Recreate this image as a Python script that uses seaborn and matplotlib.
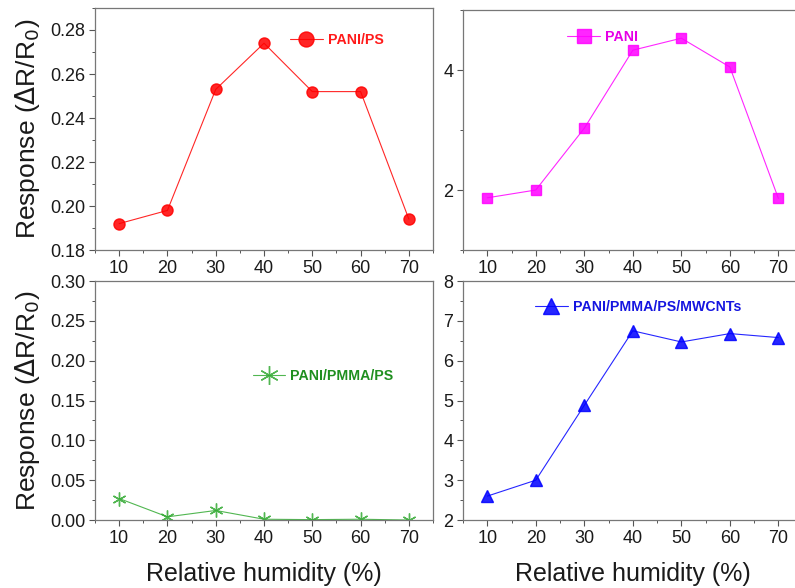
import numpy as np
import matplotlib
matplotlib.use("Agg")
import matplotlib.pyplot as plt
from matplotlib.ticker import MultipleLocator, FormatStrFormatter
import seaborn as sns

# humidity levels (%)
rh = [10, 20, 30, 40, 50, 60, 70]

# responses
pani_ps = [0.192, 0.198, 0.253, 0.274, 0.252, 0.252, 0.194]
pani = [1.87, 2.00, 3.03, 4.33, 4.53, 4.05, 1.86]
pani_pmma_ps = [0.027, 0.004, 0.012, 0.001, 0.0005, 0.001, 0.0]
pani_mwcnt = [2.60, 3.00, 4.88, 6.75, 6.47, 6.68, 6.58]

sns.set_style("white")
plt.rcParams['font.family'] = ['Liberation Sans', 'DejaVu Sans']

fig = plt.figure(figsize=(7.95, 5.88), dpi=100)

# axes boxes in figure fractions (left, bottom, width, height)
ax_tl = fig.add_axes([0.1195, 0.5748, 0.4252, 0.4116])
ax_tr = fig.add_axes([0.5824, 0.5748, 0.4272, 0.4082])
ax_bl = fig.add_axes([0.1195, 0.1156, 0.4252, 0.4065])
ax_br = fig.add_axes([0.5824, 0.1156, 0.4272, 0.4065])

panels = [
    (ax_tl, pani_ps, "PANI/PS", "#ff0000", "#ff1a1a", "o", 8, (0.18, 0.29), 0.02, 0.01),
    (ax_tr, pani, "PANI", "#ff00ff", "#e600e6", "s", 7.5, (1, 5), 2, 1),
    (ax_bl, pani_pmma_ps, "PANI/PMMA/PS", "#33aa33", "#1f8f1f", (6, 2, 0), 10, (0, 0.30), 0.05, 0.025),
    (ax_br, pani_mwcnt, "PANI/PMMA/PS/MWCNTs", "#0000ff", "#1515e0", "^", 9, (2, 8), 1, 0.5),
]
legend_pos = [(0.577, 0.868), (0.307, 0.8875), (0.467, 0.604), (0.212, 0.891)]

for (ax, vals, name, col, tcol, mk, ms, ylim, major, minor), lp in zip(panels, legend_pos):
    sns.lineplot(x=rh, y=vals, ax=ax, color=col, marker=mk, markersize=ms,
                 markeredgecolor=col, markeredgewidth=1.0, linewidth=0.8,
                 label=name)
    ax.lines[0].set_alpha(0.85)
    ax.set_xlim(5, 75)
    ax.set_ylim(*ylim)
    ax.xaxis.set_major_locator(MultipleLocator(10))
    ax.xaxis.set_minor_locator(MultipleLocator(5))
    ax.yaxis.set_major_locator(MultipleLocator(major))
    ax.yaxis.set_minor_locator(MultipleLocator(minor))
    ax.tick_params(which="major", direction="out", length=4, width=0.8,
                   color="#555555", labelsize=13, labelcolor="#1a1a1a",
                   bottom=True, left=True, pad=3)
    ax.tick_params(which="minor", direction="out", length=2.5, width=0.7,
                   color="#555555", bottom=True, left=True)
    for sp in ax.spines.values():
        sp.set_color("#777777")
        sp.set_linewidth(0.9)
    ax.set_xlabel("")
    ax.set_ylabel("")
    leg = ax.legend(loc="center left", bbox_to_anchor=lp, frameon=False,
                    handlelength=2.3, handletextpad=0.35, borderaxespad=0,
                    borderpad=0, markerscale=1.35,
                    prop={"weight": "bold", "size": 10.2})
    for t in leg.get_texts():
        t.set_color(tcol)

ax_tl.yaxis.set_major_formatter(FormatStrFormatter("%.2f"))
ax_bl.yaxis.set_major_formatter(FormatStrFormatter("%.2f"))

for ax in (ax_tl, ax_bl):
    ax.set_ylabel(r"Response ($\Delta$R/R$_0$)", fontsize=19, color="#1a1a1a", labelpad=6)
for ax in (ax_bl, ax_br):
    ax.set_xlabel("Relative humidity (%)", fontsize=18, color="#1a1a1a", labelpad=11)

fig.savefig("out.png", dpi=100)
